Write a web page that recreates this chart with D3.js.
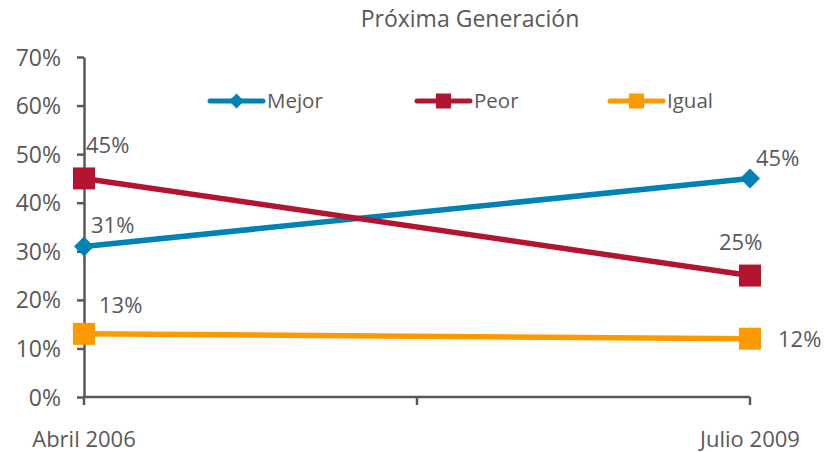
<html>
<head>
<meta charset="utf-8">
<script src="https://d3js.org/d3.v7.min.js"></script>
<style>
  body { margin: 0; background: #fff; }
  text { font-family: "Open Sans", sans-serif; fill: #595959; }
</style>
</head>
<body>
<svg id="chart" width="825" height="452"></svg>
<script>
// data
var categories = ["Abril 2006", "Julio 2009"];
var mejor = [31, 45];
var peor = [45, 25];
var igual = [13, 12];
var yTicks = [0, 10, 20, 30, 40, 50, 60, 70];

var series = [
  {name: "Mejor", values: mejor, color: "#0083B4", shape: "diamond"},
  {name: "Peor", values: peor, color: "#B31530", shape: "square"},
  {name: "Igual", values: igual, color: "#FF9900", shape: "square"}
];

var svg = d3.select("#chart");
var plotLeft = 84, plotRight = 750, plotTop = 57, plotBottom = 397;
var fs = "22px";

var x = d3.scalePoint().domain(categories).range([plotLeft, plotRight]);
var y = d3.scaleLinear().domain([0, 70]).range([plotBottom, plotTop]);

// title
svg.append("text")
  .attr("x", 470).attr("y", 27)
  .attr("text-anchor", "middle")
  .style("font-size", "23px")
  .text("Próxima Generación");

// y axis
var yAxis = svg.append("g")
  .attr("transform", "translate(" + plotLeft + ",0)")
  .call(d3.axisLeft(y).tickValues(yTicks).tickSize(7).tickSizeOuter(0)
    .tickFormat(function(d) { return d + "%"; }));
yAxis.selectAll("text").style("font-size", "23px").attr("x", -23).attr("dy", "0.35em");
yAxis.select(".domain").attr("stroke", "#595959").attr("stroke-width", 2.5);
yAxis.selectAll(".tick line").attr("stroke", "#595959").attr("stroke-width", 2.5);

// x axis: ticks at ends and in the middle
var xAxisG = svg.append("g").attr("transform", "translate(0," + plotBottom + ")");
xAxisG.append("line").attr("x1", plotLeft).attr("x2", plotRight).attr("y1", 0).attr("y2", 0);
xAxisG.selectAll(".tk").data([plotLeft, (plotLeft + plotRight) / 2, plotRight]).enter().append("line")
  .attr("x1", function(d) { return d; }).attr("x2", function(d) { return d; })
  .attr("y1", 0).attr("y2", 8);
xAxisG.selectAll("line").attr("stroke", "#595959").attr("stroke-width", 2.5);
xAxisG.selectAll(".lbl").data(categories).enter().append("text")
  .attr("x", function(d) { return x(d); })
  .attr("y", 50)
  .attr("text-anchor", "middle")
  .style("font-size", fs)
  .text(function(d) { return d; });

var line = d3.line()
  .x(function(d, i) { return x(categories[i]); })
  .y(function(d) { return y(d); });

function marker(g, shape, color, cx, cy, size) {
  if (shape === "diamond") {
    g.append("path")
      .attr("d", "M" + cx + "," + (cy - size) + "L" + (cx + size) + "," + cy +
        "L" + cx + "," + (cy + size) + "L" + (cx - size) + "," + cy + "Z")
      .attr("fill", color);
  } else {
    g.append("rect")
      .attr("x", cx - size).attr("y", cy - size)
      .attr("width", size * 2).attr("height", size * 2)
      .attr("fill", color);
  }
}

// lines and markers
series.forEach(function(s) {
  var g = svg.append("g");
  g.append("path").datum(s.values)
    .attr("d", line)
    .attr("fill", "none")
    .attr("stroke", s.color)
    .attr("stroke-width", 5.5);
  s.values.forEach(function(v, i) {
    marker(g, s.shape, s.color, x(categories[i]), y(v), s.shape === "diamond" ? 10 : 11);
  });
});

// value labels, offsets relative to each point
var labelOffsets = {
  "Mejor": [[7, -13], [6, -12]],
  "Peor": [[2, -25], [-31, -26]],
  "Igual": [[15, -21], [28, 8]]
};
series.forEach(function(s) {
  s.values.forEach(function(v, i) {
    var o = labelOffsets[s.name][i];
    svg.append("text")
      .attr("x", x(categories[i]) + o[0])
      .attr("y", y(v) + o[1])
      .style("font-size", fs)
      .text(v + "%");
  });
});

// legend
var legendX = [210, 417, 610];
series.forEach(function(s, i) {
  var g = svg.append("g");
  var lx = legendX[i], ly = 101;
  g.append("line")
    .attr("x1", lx).attr("x2", lx + 53)
    .attr("y1", ly).attr("y2", ly)
    .attr("stroke", s.color).attr("stroke-width", 5)
    .attr("stroke-linecap", "round");
  marker(g, s.shape, s.color, lx + 26.5, ly, 7.5);
  g.append("text")
    .attr("x", lx + 57).attr("y", ly + 7)
    .style("font-size", "20.5px")
    .text(s.name);
});
</script>
</body>
</html>
